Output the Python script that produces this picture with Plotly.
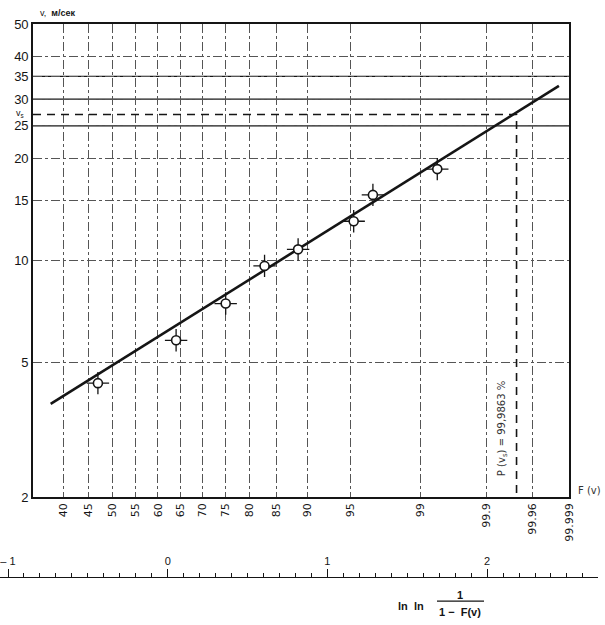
import numpy as np
import plotly.graph_objects as go

# ---------------- data ----------------
prob_pct = [46.9, 64.1, 75.1, 82.9, 88.6, 95.3, 96.8, 99.4]      # F(v), %
vel = [4.34, 5.81, 7.46, 9.64, 10.79, 13.06, 15.63, 18.63]        # v, m/s

fit_prob_pct = [37.7, 99.998]
fit_vel = [3.77, 32.8]

v_s = 27.0
p_vs_pct = 99.976            # position of the vertical dashed line
p_vs_text = "99,9863"

x_tick_prob = [40, 45, 50, 55, 60, 65, 70, 75, 80, 85, 90, 95, 99, 99.9, 99.99, 99.999]
x_tick_text = ["40", "45", "50", "55", "60", "65", "70", "75", "80", "85", "90", "95",
               "99", "99.9", "99.96", "99.999"]
y_tick_vals = [2, 5, 10, 15, 20, 25, 30, 35, 40, 50]
y_solid_lines = [25, 30, 35]
lnln_ticks = [-1, 0, 1, 2]
lnln_text = ["– 1", "0", "1", "2"]


def lnln(p):
    p = np.asarray(p, dtype=float) / 100.0
    return np.log(-np.log(1.0 - p))


# ---------------- layout helpers ----------------
W, H = 605, 625
ML, MR, MT, MB = 0, 7, 24, 3
PW, PH = W - ML - MR, H - MT - MB
DY = 2   # small vertical offset of the rendered page


def fx(px):
    return (px - ML) / PW


def fy(py):
    return (H - MB - (py + DY)) / PH


x_lo = -0.857
x_hi = float(lnln([99.999])[0])
x2_lo = (0 - 167.7) / 159.7
x2_hi = (PW - 167.7) / 159.7

INK = "#151515"
GRID = "#555555"

fig = go.Figure()

# fitted line
fig.add_trace(go.Scatter(x=lnln(fit_prob_pct), y=fit_vel, mode="lines",
                         line=dict(color=INK, width=2.6), hoverinfo="skip",
                         showlegend=False))

# v_s dashed construction
xp = float(lnln([p_vs_pct])[0])
fig.add_trace(go.Scatter(x=[x_lo, xp, xp], y=[v_s, v_s, y_tick_vals[0]], mode="lines",
                         line=dict(color=INK, width=1.6, dash="8px,6px"),
                         hoverinfo="skip", showlegend=False))

# data points: crosshair + open circle
fig.add_trace(go.Scatter(x=lnln(prob_pct), y=vel, mode="markers",
                         marker=dict(symbol="cross-thin-open", size=16, color=INK,
                                     line=dict(color=INK, width=1.3)),
                         hoverinfo="skip", showlegend=False))
fig.add_trace(go.Scatter(x=lnln(prob_pct), y=vel, mode="markers",
                         marker=dict(symbol="circle", size=9, color="white",
                                     line=dict(color=INK, width=1.6)),
                         showlegend=False))

# helper trace so the lower ln ln axis (own tiny subplot) is drawn
fig.add_trace(go.Scatter(x=lnln_ticks, y=[0] * len(lnln_ticks),
                         xaxis="x2", yaxis="y2", mode="markers",
                         marker=dict(opacity=0), hoverinfo="skip", showlegend=False))

# solid horizontal rules
for yv in y_solid_lines:
    fig.add_shape(type="line", xref="x", yref="y", x0=x_lo, x1=x_hi, y0=yv, y1=yv,
                  line=dict(color=INK, width=1.3), layer="below")

fig.update_layout(
    width=W, height=H,
    margin=dict(l=ML, r=MR, t=MT, b=MB),
    paper_bgcolor="white", plot_bgcolor="rgba(0,0,0,0)",
    font=dict(family="Liberation Sans, Arial", color=INK),
    xaxis=dict(domain=[fx(33), fx(569)], range=[x_lo, x_hi], type="linear",
               tickvals=list(lnln(x_tick_prob)), ticktext=x_tick_text,
               tickangle=-90, tickfont=dict(size=11, family="DejaVu Sans"),
               showgrid=True, gridcolor=GRID, griddash="dashdot", gridwidth=1,
               showline=True, linecolor=INK, linewidth=1.6, mirror=True,
               zeroline=False, ticks="", anchor="y"),
    yaxis=dict(domain=[fy(499), fy(22)], type="log",
               range=[np.log10(2), np.log10(50)],
               tickvals=y_tick_vals, ticktext=[str(v) for v in y_tick_vals],
               tickfont=dict(size=13), showgrid=True, gridcolor=GRID,
               griddash="dashdot", gridwidth=1,
               showline=True, linecolor=INK, linewidth=1.6, mirror=True,
               zeroline=False, ticks="", anchor="x"),
    xaxis2=dict(domain=[0, 1], range=[x2_lo, x2_hi], anchor="y2", side="top",
                tickvals=lnln_ticks, ticktext=lnln_text, tickfont=dict(size=11),
                ticks="outside", ticklen=8, tickcolor=INK, tickwidth=1,
                minor=dict(dtick=0.1, ticks="outside", ticklen=4, tickcolor=INK),
                showline=True, linecolor=INK, linewidth=1.2,
                showgrid=False, zeroline=False),
    yaxis2=dict(domain=[fy(581) - 0.008, fy(581)], anchor="x2", range=[-1, 1],
                visible=False, showgrid=False, zeroline=False),
)

# annotations
fig.add_annotation(xref="paper", yref="paper", x=fx(38), y=fy(11), xanchor="left",
                   yanchor="middle", showarrow=False,
                   text="v,  <b>м/сек</b>", font=dict(size=9, color=INK))
fig.add_annotation(xref="paper", yref="y", x=fx(26), y=np.log10(v_s), xanchor="right",
                   yanchor="middle", showarrow=False, yshift=1,
                   text="v<sub>s</sub>", font=dict(size=9, color=INK))
fig.add_annotation(xref="x", yref="paper", x=xp, y=fy(430), xshift=-14,
                   xanchor="center", yanchor="middle",
                   showarrow=False, textangle=-90,
                   text="P (v<sub>s</sub>) = " + p_vs_text + " %",
                   font=dict(size=10, color="#333", family="DejaVu Sans"))
fig.add_annotation(xref="paper", yref="paper", x=fx(576), y=fy(492), xanchor="left",
                   yanchor="middle", showarrow=False, text="F (v)",
                   font=dict(size=10, color="#333", family="DejaVu Sans"))
fig.add_annotation(xref="paper", yref="paper", x=fx(411), y=fy(609), showarrow=False,
                   xanchor="center", yanchor="middle",
                   text="<b>ln  ln</b>", font=dict(size=11, color=INK))
fig.add_annotation(xref="paper", yref="paper", x=fx(460), y=fy(598), showarrow=False,
                   xanchor="center", yanchor="middle",
                   text="<b>1</b>", font=dict(size=11, color=INK))
fig.add_annotation(xref="paper", yref="paper", x=fx(460), y=fy(615), showarrow=False,
                   xanchor="center", yanchor="middle",
                   text="<b>1 −  F(v)</b>", font=dict(size=11, color=INK))
fig.add_shape(type="line", xref="paper", yref="paper", x0=fx(437), x1=fx(484),
              y0=fy(604), y1=fy(604), line=dict(color=INK, width=1.2))

fig.write_html("out.html", config={"displayModeBar": False},
               post_script="document.body.style.margin='0px';")
